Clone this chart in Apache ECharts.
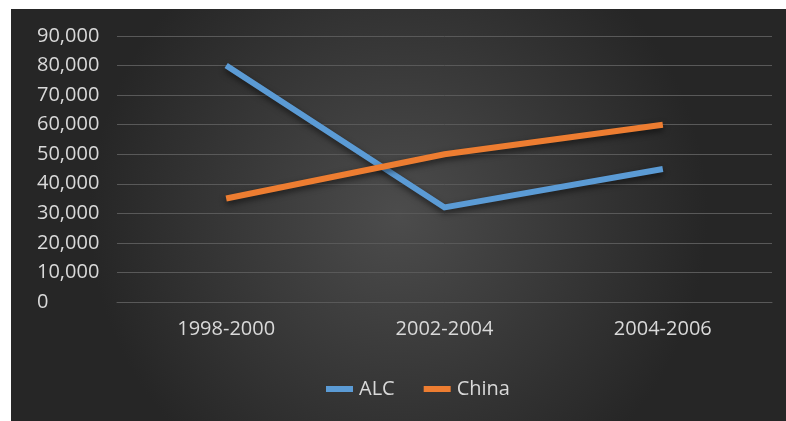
<!DOCTYPE html>
<html>
<head>
<meta charset="utf-8">
<script src="https://cdn.jsdelivr.net/npm/echarts@6/dist/echarts.min.js"></script>
<style>
  html, body { margin: 0; padding: 0; background: #ffffff; width: 786px; height: 421px; overflow: hidden; }
  #chart { position: absolute; left: 11px; top: 9px; width: 775px; height: 412px; }
</style>
</head>
<body>
<div id="chart"></div>
<script>
const categories = ['1998-2000', '2002-2004', '2004-2006'];
const alcValues = [80000, 32000, 45000];
const chinaValues = [35000, 50000, 60000];
const seriesNames = ['ALC', 'China'];

const chart = echarts.init(document.getElementById('chart'), null, { renderer: 'canvas' });
const fontFamily = '"Open Sans", "Noto Sans", sans-serif';
const textColor = '#d9d9d9';

chart.setOption({
  animation: false,
  backgroundColor: new echarts.graphic.RadialGradient(0.5, 0.5, 0.75, [
    { offset: 0, color: '#4c4c4c' },
    { offset: 1, color: '#262626' }
  ]),
  grid: { left: 106, top: 27, right: 14, bottom: 119, containLabel: false },
  legend: {
    data: seriesNames,
    left: 310,
    top: 365,
    itemWidth: 27,
    itemHeight: 6,
    itemGap: 29,
    icon: 'rect',
    textStyle: { color: textColor, fontSize: 20, fontFamily: fontFamily, padding: [0, 0, 0, 1] }
  },
  xAxis: {
    type: 'category',
    data: categories,
    boundaryGap: true,
    axisLine: { show: true, lineStyle: { color: '#595959', width: 1 } },
    axisTick: { show: false },
    axisLabel: { color: textColor, fontSize: 20, fontFamily: fontFamily, margin: 17 }
  },
  yAxis: {
    type: 'value',
    min: 0,
    max: 90000,
    interval: 10000,
    axisLine: { show: false },
    axisTick: { show: false },
    splitLine: { lineStyle: { color: '#595959', width: 1 } },
    axisLabel: {
      color: textColor, fontSize: 20, fontFamily: fontFamily,
      align: 'left', margin: 80,
      formatter: v => v.toLocaleString('en-US')
    }
  },
  series: [
    {
      name: seriesNames[0], type: 'line', data: alcValues, symbol: 'none',
      itemStyle: { color: '#5b9bd5' },
      lineStyle: { color: '#5b9bd5', width: 6, cap: 'butt', join: 'miter',
        shadowColor: 'rgba(0,0,0,0.55)', shadowBlur: 6, shadowOffsetY: 3 }
    },
    {
      name: seriesNames[1], type: 'line', data: chinaValues, symbol: 'none',
      itemStyle: { color: '#ed7d31' },
      lineStyle: { color: '#ed7d31', width: 6, cap: 'butt', join: 'miter',
        shadowColor: 'rgba(0,0,0,0.55)', shadowBlur: 6, shadowOffsetY: 3 }
    }
  ]
});
</script>
</body>
</html>
